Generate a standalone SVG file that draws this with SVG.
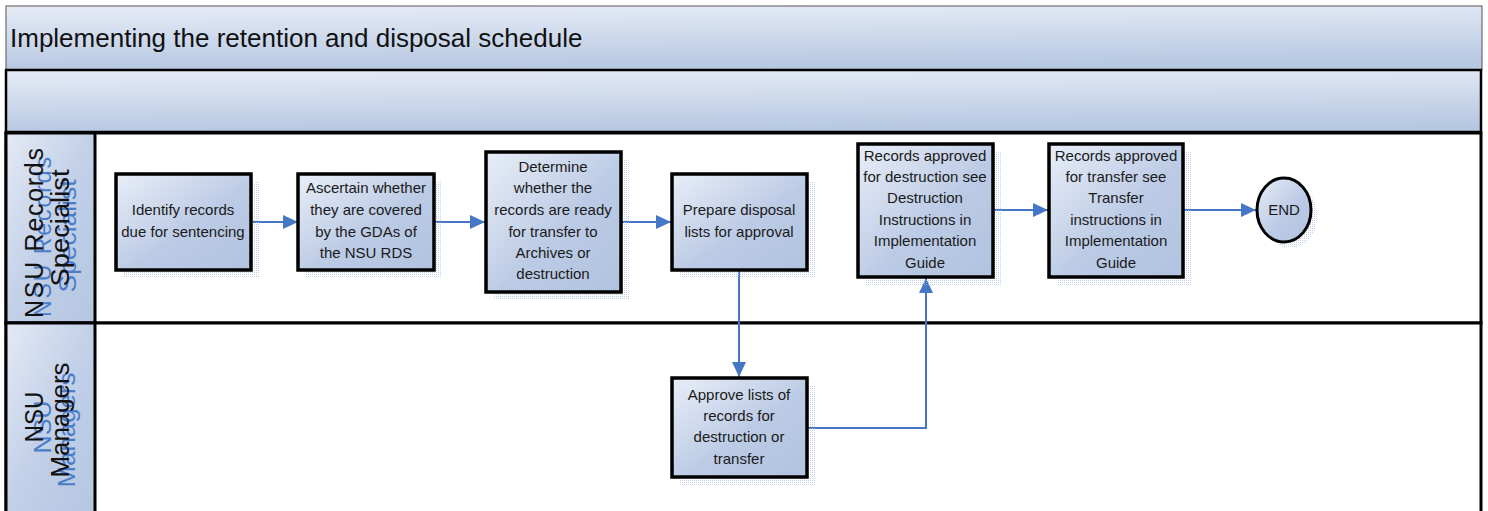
<svg xmlns="http://www.w3.org/2000/svg" width="1488" height="511" viewBox="0 0 1488 511">
<defs>
<linearGradient id="gBox" x1="0" y1="0" x2="1" y2="1">
<stop offset="0" stop-color="#e9eef8"/>
<stop offset="0.55" stop-color="#bccbe5"/>
<stop offset="1" stop-color="#b1c3e0"/>
</linearGradient>
<linearGradient id="gBar" x1="0" y1="0" x2="0.15" y2="1">
<stop offset="0" stop-color="#e6ecf6"/>
<stop offset="1" stop-color="#b7c8e2"/>
</linearGradient>
<linearGradient id="gHead" x1="0" y1="0" x2="1" y2="1">
<stop offset="0" stop-color="#e4eaf5"/>
<stop offset="0.5" stop-color="#c2d0e8"/>
<stop offset="1" stop-color="#b5c6e2"/>
</linearGradient>
<pattern id="dots" width="2" height="2" patternUnits="userSpaceOnUse">
<rect width="1" height="1" fill="#a8bce0"/>
</pattern>
<marker id="arr" markerUnits="userSpaceOnUse" markerWidth="15" markerHeight="14" viewBox="0 0 15 14" refX="15" refY="7" orient="auto">
<path d="M0,0 L15,7 L0,14 z" fill="#4677c6"/>
</marker>
</defs>
<style>
.box{fill:url(#gBox);stroke:#000;stroke-width:3.5}
.shadow{fill:url(#dots);opacity:0.7}
.t{font-family:"Liberation Sans",Arial,sans-serif;font-size:15px;fill:#1a1a1a;text-anchor:middle}
.lane{font-family:"Liberation Sans",Arial,sans-serif;font-size:25px;fill:#111;text-anchor:middle}
.ghost{font-family:"Liberation Sans",Arial,sans-serif;font-size:23px;fill:#4a7cc8;text-anchor:middle}
.conn{fill:none;stroke:#4677c6;stroke-width:2}
</style>
<rect x="0" y="0" width="1488" height="511" fill="#ffffff"/>

<g id="pool-title">
<rect x="6" y="6" width="1476" height="64" fill="url(#gBar)" stroke="#555" stroke-width="1"/>
<text x="10" y="47" font-family="'Liberation Sans',Arial,sans-serif" font-size="26" fill="#111">Implementing the retention and disposal schedule</text>
</g>
<g id="phase-bar">
<rect x="6" y="70" width="1475" height="62" fill="url(#gBar)" stroke="#000" stroke-width="2.5"/>
</g>

<g id="lane-specialist">
<rect x="6" y="133" width="1475" height="190" fill="#fff" stroke="#000" stroke-width="3"/>
<rect x="6" y="133" width="89" height="190" fill="url(#gHead)" stroke="#000" stroke-width="3"/>
<text class="ghost" transform="translate(51,237) rotate(-90)" textLength="160" lengthAdjust="spacing">NSU Records</text>
<text class="ghost" transform="translate(76,236) rotate(-90)" textLength="113" lengthAdjust="spacingAndGlyphs">Specialist</text>
<text class="lane" transform="translate(43,233) rotate(-90)" textLength="170" lengthAdjust="spacing">NSU Records</text>
<text class="lane" transform="translate(69,228) rotate(-90)" textLength="117" lengthAdjust="spacingAndGlyphs">Specialist</text>
</g>
<g id="lane-managers">
<rect x="6" y="323" width="1475" height="192" fill="#fff" stroke="#000" stroke-width="3"/>
<rect x="6" y="323" width="89" height="192" fill="url(#gHead)" stroke="#000" stroke-width="3"/>
<text class="ghost" transform="translate(51,427) rotate(-90)" textLength="53" lengthAdjust="spacingAndGlyphs">NSU</text>
<text class="ghost" transform="translate(75,430) rotate(-90)" textLength="115" lengthAdjust="spacingAndGlyphs">Managers</text>
<text class="lane" transform="translate(43,417) rotate(-90)" textLength="51" lengthAdjust="spacingAndGlyphs">NSU</text>
<text class="lane" transform="translate(69,420) rotate(-90)" textLength="115" lengthAdjust="spacingAndGlyphs">Managers</text>
</g>

<g id="connectors">
<line class="conn" x1="251" y1="222" x2="298" y2="222" marker-end="url(#arr)"/>
<line class="conn" x1="434" y1="222" x2="485" y2="222" marker-end="url(#arr)"/>
<line class="conn" x1="621" y1="222" x2="671" y2="222" marker-end="url(#arr)"/>
<line class="conn" x1="739" y1="271" x2="739" y2="377" marker-end="url(#arr)"/>
<polyline class="conn" points="807,428 926,428 926,278" marker-end="url(#arr)"/>
<line class="conn" x1="993" y1="210" x2="1048" y2="210" marker-end="url(#arr)"/>
<line class="conn" x1="1183" y1="210" x2="1256" y2="210" marker-end="url(#arr)"/>
</g>

<g id="n1">
<rect class="shadow" x="124" y="182" width="135" height="96"/>
<rect class="box" x="116" y="174" width="135" height="96"/>
<text class="t" x="183" y="215">Identify records</text>
<text class="t" x="183" y="237">due for sentencing</text>
</g>
<g id="n2">
<rect class="shadow" x="306" y="182" width="136" height="96"/>
<rect class="box" x="298" y="174" width="136" height="96"/>
<text class="t" x="366" y="193">Ascertain whether</text>
<text class="t" x="366" y="215">they are covered</text>
<text class="t" x="366" y="237">by the GDAs of</text>
<text class="t" x="366" y="258">the NSU RDS</text>
</g>
<g id="n3">
<rect class="shadow" x="494" y="160" width="135" height="140"/>
<rect class="box" x="486" y="152" width="135" height="140"/>
<text class="t" x="553" y="172">Determine</text>
<text class="t" x="553" y="193">whether the</text>
<text class="t" x="553" y="215">records are ready</text>
<text class="t" x="553" y="237">for transfer to</text>
<text class="t" x="553" y="258">Archives or</text>
<text class="t" x="553" y="279">destruction</text>
</g>
<g id="n4">
<rect class="shadow" x="680" y="182" width="135" height="96"/>
<rect class="box" x="672" y="174" width="135" height="96"/>
<text class="t" x="739" y="215">Prepare disposal</text>
<text class="t" x="739" y="237">lists for approval</text>
</g>
<g id="n5">
<rect class="shadow" x="866" y="152" width="135" height="133"/>
<rect class="box" x="858" y="144" width="135" height="133"/>
<text class="t" x="925" y="161">Records approved</text>
<text class="t" x="925" y="182">for destruction see</text>
<text class="t" x="925" y="203">Destruction</text>
<text class="t" x="925" y="225">Instructions in</text>
<text class="t" x="925" y="246">Implementation</text>
<text class="t" x="925" y="268">Guide</text>
</g>
<g id="n6">
<rect class="shadow" x="1057" y="152" width="134" height="133"/>
<rect class="box" x="1049" y="144" width="134" height="133"/>
<text class="t" x="1116" y="161">Records approved</text>
<text class="t" x="1116" y="182">for transfer see</text>
<text class="t" x="1116" y="203">Transfer</text>
<text class="t" x="1116" y="225">instructions in</text>
<text class="t" x="1116" y="246">Implementation</text>
<text class="t" x="1116" y="268">Guide</text>
</g>
<g id="end">
<ellipse class="shadow" cx="1290" cy="216" rx="27" ry="32"/>
<ellipse cx="1284" cy="210" rx="27" ry="32" fill="url(#gBox)" stroke="#000" stroke-width="3"/>
<text class="t" x="1284" y="215">END</text>
</g>
<g id="n7">
<rect class="shadow" x="680" y="386" width="135" height="99"/>
<rect class="box" x="672" y="378" width="135" height="99"/>
<text class="t" x="739" y="400">Approve lists of</text>
<text class="t" x="739" y="421">records for</text>
<text class="t" x="739" y="442">destruction or</text>
<text class="t" x="739" y="464">transfer</text>
</g>
</svg>
